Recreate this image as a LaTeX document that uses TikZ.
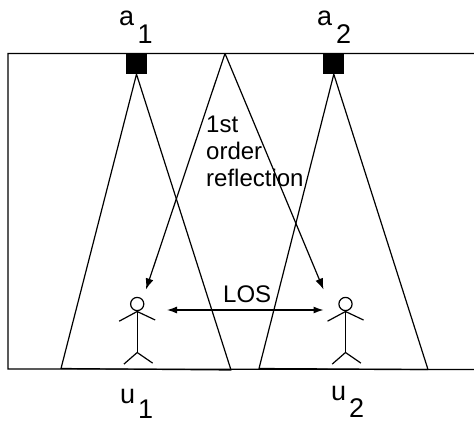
\documentclass[tikz,border=0pt]{standalone}
\usepackage{fontspec}
\setmainfont{Liberation Sans}
\usetikzlibrary{arrows.meta}
\tikzset{
  wire/.style={draw=black,line width=1.2pt},
  arr/.style={wire,{Latex[length=10pt,width=7pt]}-{Latex[length=10pt,width=7pt]}},
  arrone/.style={wire,-{Latex[length=11pt,width=8pt]}},
  lab/.style={inner sep=0pt,anchor=base west,font=\fontsize{27}{27}\selectfont},
  small/.style={inner sep=0pt,anchor=base west,font=\fontsize{24}{27}\selectfont},
  ant/.style={fill=black,draw=none,minimum size=21pt,inner sep=0pt},
  person/.pic={
    \draw[wire] (0,-7.5) circle (6.6);
    \draw[wire] (0,0) -- (0,41);
    \draw[wire] (-18,9.7) -- (0,0) -- (18,8.5);
    \draw[wire] (-13.3,52.6) -- (0,41) -- (15.4,51.6);
  }
}
\begin{document}
\begin{tikzpicture}[x=1pt,y=-1pt]
\useasboundingbox (0,0) rectangle (474,421);
\fill[white] (0,0) rectangle (474,421);
\coordinate (ne) at (474,53.5);
\coordinate (nw) at (8,53.5);
\coordinate (sw) at (8,369);
\coordinate (se) at (474,369.5);
\draw[wire] (ne) -- (nw) -- (sw) -- (se);
\node[ant] (a1) at (136.5,63.5) {};
\node[ant] (a2) at (333.8,63.5) {};
\coordinate (r) at (225,53.5);
\coordinate (f1) at (61,368.5);
\coordinate (f2) at (231,370);
\coordinate (f3) at (259,368.5);
\coordinate (f4) at (428,369.5);
\coordinate (t1) at (146,289.5);
\coordinate (t2) at (323.5,289.5);
\coordinate (l1) at (167,310);
\coordinate (l2) at (323.5,310);
\draw[wire,line join=round] (f1) -- (a1.south) -- (f2) -- cycle;
\draw[wire,line join=round] (f3) -- (a2.south) -- (f4) -- cycle;
\draw[wire] (f4) -- (se);
\draw[arrone] (r) -- (t1);
\draw[arrone] (r) -- (t2);
\draw[arr] (l1) -- (l2);
\pic at (137.2,311.5) {person};
\pic at (345.5,311.5) {person};
\node[lab] (ta1) at (119,25) {a};
\node[lab] (ta1s) at (137.5,43) {1};
\node[lab] (ta2) at (317,25) {a};
\node[lab] (ta2s) at (336,43) {2};
\node[lab] (tu1) at (120,403) {u};
\node[lab] (tu1s) at (138,418.5) {1};
\node[lab] (tu2) at (331,400) {u};
\node[lab] (tu2s) at (349,417.5) {2};
\node[small] (los) at (223,302.7) {LOS};
\node[small] (t1st) at (206,132.7) {1st};
\node[small] (tord) at (206,159.5) {order};
\node[small] (tref) at (206,186) {reflection};
\end{tikzpicture}
\end{document}
